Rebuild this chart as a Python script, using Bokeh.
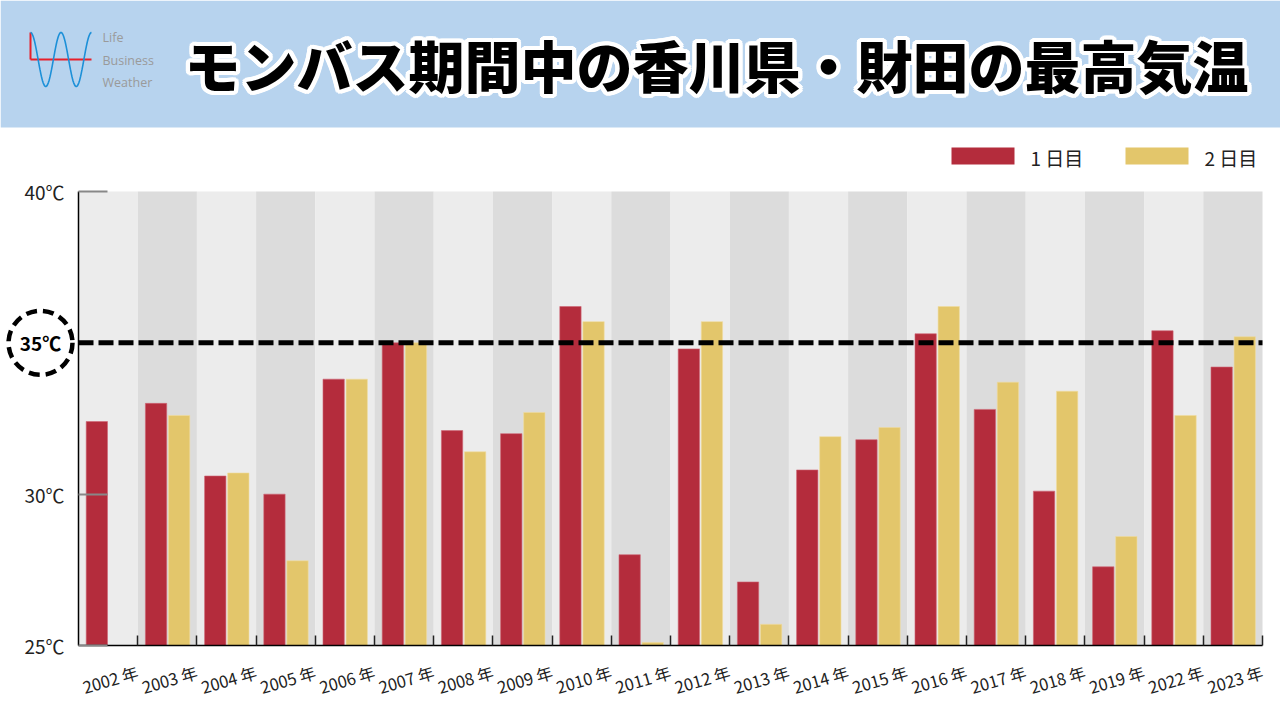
import math
from bokeh.plotting import figure
from bokeh.models import Range1d, FixedTicker, ColumnDataSource
from bokeh.core.properties import value
from bokeh.embed import file_html
from bokeh.resources import INLINE
from bokeh.transform import dodge

NaN = float("nan")

# ---------------- data ----------------
years = ["2002", "2003", "2004", "2005", "2006", "2007", "2008", "2009", "2010", "2011",
         "2012", "2013", "2014", "2015", "2016", "2017", "2018", "2019", "2022", "2023"]
day1 = [32.4, 33.0, 30.6, 30.0, 33.8, 35.0, 32.1, 32.0, 36.2, 28.0,
        34.8, 27.1, 30.8, 31.8, 35.3, 32.8, 30.1, 27.6, 35.4, 34.2]
day2 = [NaN, 32.6, 30.7, 27.8, 33.8, 35.0, 31.4, 32.7, 35.7, 25.1,
        35.7, 25.7, 31.9, 32.2, 36.2, 33.7, 33.4, 28.6, 32.6, 35.2]
series_labels = ["1 日目", "2 日目"]
y_ticks = [25, 30, 40]
y_min, y_max = 25, 40
threshold = 35
title_text = "モンバス期間中の香川県・財田の最高気温"
logo_words = ["Life", "Business", "Weather"]

# ---------------- style ----------------
RED = "#b42c3c"
YELLOW = "#e3c66b"
BAND_LIGHT = "#ececec"
BAND_DARK = "#dcdcdc"
HEADER_BG = "#b7d3ee"
JP = "Noto Sans CJK JP"
JP_HEAVY = "'Noto Sans CJK JP Black', 'Noto Sans CJK JP'"

W, H = 1280, 720
n = len(years)
idx = list(range(n))

# page-pixel layout of the plotting area (decoration placement only)
FR_L, FR_R, FR_T, FR_B = 78, 1262, 191, 645


def dx(px):
    return -0.5 + (px - FR_L) * n / (FR_R - FR_L)


def dy(py):
    return y_max - (py - FR_T) * (y_max - y_min) / (FR_B - FR_T)


p = figure(width=W, height=H, x_range=Range1d(dx(0), dx(W)), y_range=Range1d(dy(H), dy(0)),
           output_backend="svg", toolbar_location=None, min_border=0,
           min_border_left=0, min_border_right=0, min_border_top=0, min_border_bottom=0)
p.grid.visible = False
p.outline_line_color = None
p.background_fill_color = "white"
p.border_fill_color = "white"

# ---------------- header ----------------
p.quad(left=[dx(0)], right=[dx(W)], top=[dy(0)], bottom=[dy(127)], fill_color=HEADER_BG, line_color=None)

# logo
p.segment(x0=[dx(30), dx(30)], y0=[dy(32), dy(59)], x1=[dx(30), dx(91)], y1=[dy(59), dy(59)],
          line_color="#e8202a", line_width=2)
wpx = [30 + k * 0.5 for k in range(123)]
wpy = [59 - 27 * math.cos(2 * math.pi * (x - 30) / 30.5) for x in wpx]
p.line([dx(x) for x in wpx], [dy(y) for y in wpy], line_color="#1c90d8", line_width=1.6)
p.text(x=[dx(102)] * 3, y=[dy(37), dy(60), dy(82)], text=logo_words, text_font=value("Open Sans"),
       text_font_size="12.5px", text_color="#9a9a9a", text_baseline="middle", text_align="left")

# title with thick white outline
ring = 16
ox = [4.2 * math.cos(2 * math.pi * k / ring) for k in range(ring)]
oy = [4.2 * math.sin(2 * math.pi * k / ring) for k in range(ring)]
p.text(x=[dx(716)] * ring, y=[dy(63)] * ring, text=[title_text] * ring, x_offset=ox, y_offset=oy,
       text_align="center", text_baseline="middle", text_font=value(JP_HEAVY),
       text_font_style="bold", text_font_size="56px", text_color="white")
p.text(x=[dx(716)], y=[dy(63)], text=[title_text], text_align="center", text_baseline="middle",
       text_font=value(JP_HEAVY), text_font_style="bold", text_font_size="56px", text_color="black")

# legend
leg_x = [951, 1125]
p.quad(left=[dx(x) for x in leg_x], right=[dx(x + 63) for x in leg_x], top=[dy(147)] * 2,
       bottom=[dy(164)] * 2, fill_color=[RED, YELLOW], line_color=None)
p.text(x=[dx(x + 79) for x in leg_x], y=[dy(157)] * 2, text=series_labels, text_font=value(JP),
       text_font_size="19px", text_color="#222222", text_baseline="middle", text_align="left")

# ---------------- chart ----------------
band_colors = [BAND_LIGHT if i % 2 == 0 else BAND_DARK for i in idx]
p.vbar(x=idx, width=1, bottom=y_min, top=y_max, fill_color=band_colors, line_color=None)

src = ColumnDataSource(dict(idx=idx, day1=day1, day2=day2))
p.vbar(x=dodge("idx", -0.19, range=p.x_range), top="day1", bottom=y_min, width=0.36,
       source=src, fill_color=RED, line_color="#cf6674", line_width=1, line_alpha=0.6)
p.vbar(x=dodge("idx", 0.2, range=p.x_range), top="day2", bottom=y_min, width=0.36,
       source=src, fill_color=YELLOW, line_color="#f0dc9e", line_width=1, line_alpha=0.6)

# threshold line
p.segment(x0=[-0.5], x1=[n - 0.5], y0=[threshold], y1=[threshold],
          line_color="black", line_width=5, line_dash="15 5")

# circled threshold marker in the left margin
cx = dx(40)
p.scatter(x=[cx], y=[threshold], marker="circle", size=64, fill_color="white",
          line_color="black", line_width=4.5, line_dash="11 6")
p.text(x=[cx], y=[threshold], text=[f"{threshold}℃"], text_align="center", text_baseline="middle",
       text_font=value(JP), text_font_style="bold", text_font_size="19px", text_color="black")

# y axis
ya = p.yaxis[0]
ya.fixed_location = -0.5
ya.bounds = (y_min, y_max)
ya.ticker = FixedTicker(ticks=y_ticks, minor_ticks=[])
ya.major_label_overrides = {t: f"{t}℃" for t in y_ticks}
ya.axis_line_color = "black"
ya.axis_line_width = 1.5
ya.major_tick_in = 29
ya.major_tick_out = 0
ya.major_tick_line_color = "#888888"
ya.major_tick_line_width = 2
ya.minor_tick_line_color = None
ya.major_label_standoff = 14
ya.major_label_text_font = JP
ya.major_label_text_font_size = "19px"
ya.major_label_text_color = "#222222"

# x axis
xa = p.xaxis[0]
xa.fixed_location = y_min
xa.bounds = (-0.5, n - 0.5)
xa.ticker = FixedTicker(ticks=[i + 0.5 for i in idx], minor_ticks=[])
xa.major_label_overrides = {i + 0.5: f"{years[i]} 年" for i in idx}
xa.major_label_orientation = 0.28
xa.axis_line_color = "black"
xa.axis_line_width = 1.5
xa.major_tick_in = 10
xa.major_tick_out = 0
xa.major_tick_line_color = "#222222"
xa.major_tick_line_width = 1.5
xa.minor_tick_line_color = None
xa.major_label_standoff = 26
xa.major_label_text_font = JP
xa.major_label_text_font_size = "16.5px"
xa.major_label_text_color = "#222222"

open("out.html", "w").write(file_html(p, INLINE))
